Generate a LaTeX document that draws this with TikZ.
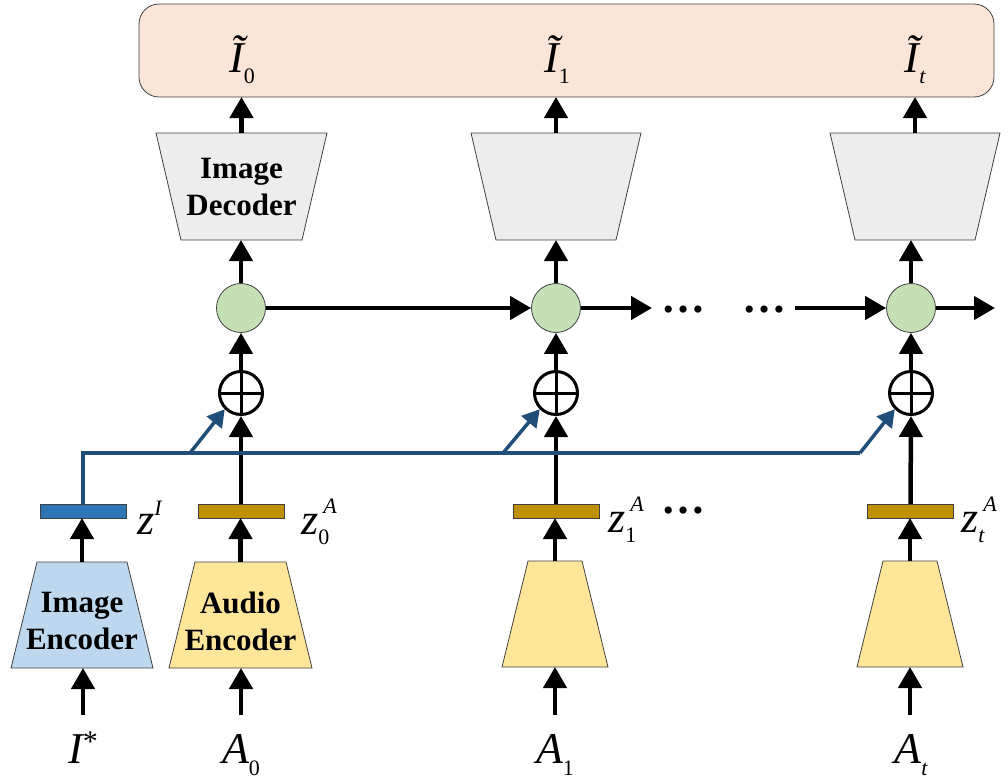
\documentclass[tikz,border=0pt]{standalone}
\usepackage{fontspec}
\setmainfont{Liberation Serif}
\usetikzlibrary{arrows.meta,calc,backgrounds}
\definecolor{peach}{HTML}{FBE5D6}
\definecolor{decgray}{HTML}{EDEDED}
\definecolor{gcirc}{HTML}{C5E0B4}
\definecolor{encblue}{HTML}{BDD7EE}
\definecolor{encyel}{HTML}{FFE699}
\definecolor{barblue}{HTML}{2E75B6}
\definecolor{bargold}{HTML}{BF9000}
\definecolor{linkblue}{HTML}{1F4E79}
\definecolor{edgecol}{HTML}{404040}
\newcommand\mfs{\fontsize{44}{48}\selectfont}
\newcommand\sfs{\fontsize{22}{24}\selectfont}
\newcommand\btxt{\fontsize{31}{37}\selectfont\bfseries}
\newcommand\trapfill[4]{%
  \filldraw[fill=#4, draw=edgecol, line width=0.8pt]
    ($(#1.north west)+(#2,0)$) -- ($(#1.north east)+(-#2,0)$) --
    ($(#1.south east)+(-#3,0)$) -- ($(#1.south west)+(#3,0)$) -- cycle;}
\begin{document}
\begin{tikzpicture}[x=1pt,y=-1pt,
  arr/.style={line width=4.5pt, -{Triangle[width=23pt,length=21pt]}},
  barr/.style={line width=3.5pt, draw=linkblue, -{Triangle[width=19pt,length=17pt]}},
  bline/.style={line width=3.5pt, draw=linkblue},
  trapnode/.style={rectangle, inner sep=0pt, outer sep=0pt, align=center, font=\btxt},
  gnode/.style={circle, minimum size=49pt, inner sep=0pt, fill=gcirc, draw=edgecol, line width=0.8pt},
  pnode/.style={circle, minimum size=43pt, inner sep=0pt, draw=black, line width=3pt,
    path picture={\draw[line width=3pt] (path picture bounding box.north) -- (path picture bounding box.south)
      (path picture bounding box.west) -- (path picture bounding box.east);}},
  barnode/.style={rectangle, minimum width=86pt, minimum height=14pt, inner sep=0pt, outer sep=0pt, draw=edgecol, line width=0.8pt},
  lbl/.style={inner sep=0pt, font=\mfs},
  dotsnode/.style={inner sep=0pt, font=\mfs\bfseries, anchor=base}
]
\useasboundingbox (0,0) rectangle (1008,782);

% output box
\node[rectangle, rounded corners=20pt, fill=peach, draw=edgecol, line width=0.8pt,
  minimum width=855pt, minimum height=93pt, inner sep=0pt, outer sep=0pt] (out) at (566.5,50.5) {};
\node[lbl, anchor=base] (Lt0) at (242,72) {\itshape Ĩ\raisebox{-11pt}{\sfs\upshape 0}};
\node[lbl, anchor=base] (Lt1) at (557,72) {\itshape Ĩ\raisebox{-11pt}{\sfs\upshape 1}};
\node[lbl, anchor=base] (Lt2) at (915,72) {\itshape Ĩ\raisebox{-11pt}{\sfs t}};

% decoders
\node[trapnode, minimum width=171pt, minimum height=107pt] (dec0) at (241.5,186.5) {Image\\Decoder};
\node[trapnode, minimum width=170pt, minimum height=107pt] (dec1) at (556,186.5) {};
\node[trapnode, minimum width=170pt, minimum height=107pt] (dec2) at (915,186.5) {};

% recurrent cells
\node[gnode] (g0) at (241,308) {};
\node[gnode] (g1) at (556,308) {};
\node[gnode] (g2) at (911,308) {};

% sums
\node[pnode] (p0) at (241,393) {};
\node[pnode] (p1) at (556,393) {};
\node[pnode] (p2) at (911,393) {};

% latent bars
\node[barnode, fill=barblue] (bI) at (83,511) {};
\node[barnode, fill=bargold] (b0) at (241,511) {};
\node[barnode, fill=bargold] (b1) at (556,511) {};
\node[barnode, fill=bargold] (b2) at (910.5,511) {};

\node[lbl, anchor=base west] (LzI) at (137,534) {\itshape z\raisebox{19pt}{\sfs I}};
\node[lbl, anchor=base west] (Lz0) at (301,534) {\itshape z\rlap{\hspace{5pt}\raisebox{21pt}{\sfs A}}\raisebox{-10pt}{\sfs\upshape 0}};
\node[lbl, anchor=base west] (Lz1) at (608,532) {\itshape z\rlap{\hspace{5pt}\raisebox{21pt}{\sfs A}}\raisebox{-10pt}{\sfs\upshape 1}};
\node[lbl, anchor=base west] (Lz2) at (961,532) {\itshape z\rlap{\hspace{5pt}\raisebox{21pt}{\sfs A}}\raisebox{-10pt}{\sfs t}};

% encoders
\node[trapnode, minimum width=142pt, minimum height=106pt,
  label={[font=\btxt, align=center, yshift=-6pt]center:{Image\\Encoder}}] (encI) at (82,615) {};
\node[trapnode, minimum width=143pt, minimum height=106pt,
  label={[font=\btxt, align=center, yshift=-6pt]center:{Audio\\Encoder}}] (enc0) at (240.5,615) {};
\node[trapnode, minimum width=106pt, minimum height=106pt] (enc1) at (555,614) {};
\node[trapnode, minimum width=106pt, minimum height=106pt] (enc2) at (910,614) {};

% inputs
\node[lbl, anchor=base] (LI) at (83,763) {\itshape I\upshape\raisebox{12pt}{\fontsize{30}{32}\selectfont *}};
\node[lbl, anchor=base] (LA0) at (241,763) {\itshape A\raisebox{-12pt}{\sfs\upshape 0}};
\node[lbl, anchor=base] (LA1) at (555,763) {\itshape A\raisebox{-12pt}{\sfs\upshape 1}};
\node[lbl, anchor=base] (LA2) at (911,763) {\itshape A\raisebox{-12pt}{\sfs t}};
\coordinate (iI) at (83,715);
\coordinate (i0) at (241,715);
\coordinate (i1) at (555,715);
\coordinate (i2) at (910,715);

% dots
\node[dotsnode] (dots1) at (683,312) {…};
\node[dotsnode] (dots2) at (764,312) {…};
\node[dotsnode] (dots3) at (683,513) {…};

% trapezoid bodies
\begin{scope}[on background layer]
  \trapfill{dec0}{0}{25}{decgray}
  \trapfill{dec1}{0}{25}{decgray}
  \trapfill{dec2}{0}{25}{decgray}
  \trapfill{encI}{26}{0}{encblue}
  \trapfill{enc0}{26}{0}{encyel}
  \trapfill{enc1}{26}{0}{encyel}
  \trapfill{enc2}{26}{0}{encyel}
\end{scope}

% vertical arrows
\draw[arr] (dec0.north) -- (dec0.north |- out.south);
\draw[arr] (dec1.north) -- (dec1.north |- out.south);
\draw[arr] (dec2.north) -- (dec2.north |- out.south);
\draw[arr] (g0.north) -- (g0.north |- dec0.south);
\draw[arr] (g1.north) -- (g1.north |- dec1.south);
\draw[arr] (g2.north) -- (g2.north |- dec2.south);
\draw[arr] (p0.north) -- (g0.south);
\draw[arr] (p1.north) -- (g1.south);
\draw[arr] (p2.north) -- (g2.south);
\draw[arr] (b0.north) -- (p0.south);
\draw[arr] (b1.north) -- (p1.south);
\draw[arr] (b2.north) -- (p2.south);
\draw[arr] (encI.north) -- (encI.north |- bI.south);
\draw[arr] (enc0.north) -- (enc0.north |- b0.south);
\draw[arr] (enc1.north) -- (enc1.north |- b1.south);
\draw[arr] (enc2.north) -- (enc2.north |- b2.south);
\draw[arr] (iI) -- (iI |- encI.south);
\draw[arr] (i0) -- (i0 |- enc0.south);
\draw[arr] (i1) -- (i1 |- enc1.south);
\draw[arr] (i2) -- (i2 |- enc2.south);

% horizontal recurrence
\coordinate (h1) at (652,308);
\coordinate (h2) at (795,308);
\coordinate (h3) at (995,308);
\draw[arr] (g0.east) -- (g1.west);
\draw[arr] (g1.east) -- (h1);
\draw[arr] (h2) -- (g2.west);
\draw[arr] (g2.east) -- (h3);

% image latent broadcast
\coordinate (br0) at (190,453);
\coordinate (br1) at (503,453);
\coordinate (br2) at (860,453);
\draw[bline] (bI.north) |- (br2);
\draw[barr] (br0) -- (p0.225);
\draw[barr] (br1) -- (p1.225);
\draw[barr] (br2) -- (p2.225);
\end{tikzpicture}
\end{document}
